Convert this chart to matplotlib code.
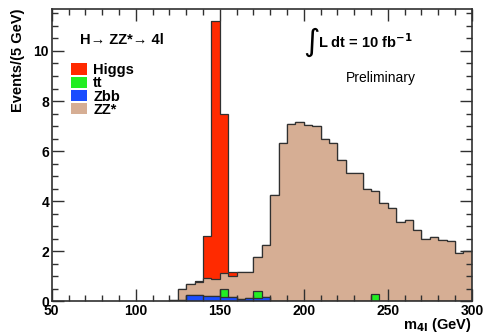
import numpy as np
import matplotlib
matplotlib.use("Agg")
import matplotlib.pyplot as plt
from matplotlib.patches import Patch
from matplotlib.ticker import MultipleLocator

plt.rcParams['font.family'] = ['Liberation Sans', 'DejaVu Sans']

# 5 GeV bins from 120 to 300 GeV (all empty below 120)
bin_lo = 120
bin_w = 5
zbb = [0.0, 0.03, 0.24, 0.24, 0.19, 0.19, 0.16, 0.16, 0.08, 0.11, 0.13, 0.17,
       0.02, 0.02, 0.02, 0.0, 0.0, 0.02, 0.0, 0.02, 0.02, 0.0, 0.02, 0.0,
       0.0, 0.0, 0.0, 0.0, 0.0, 0.0, 0.0, 0.0, 0.0, 0.0, 0.0, 0.0]
ttbar = [0.0, 0.0, 0.0, 0.0, 0.0, 0.0, 0.31, 0.0, 0.0, 0.0, 0.26, 0.0,
         0.0, 0.0, 0.0, 0.0, 0.0, 0.0, 0.0, 0.0, 0.0, 0.0, 0.0, 0.0,
         0.30, 0.0, 0.0, 0.0, 0.0, 0.0, 0.0, 0.0, 0.0, 0.0, 0.0, 0.0]
zz = [0.05, 0.45, 0.43, 0.51, 0.74, 0.69, 0.64, 0.85, 1.07, 1.04, 1.38, 2.06,
      4.21, 6.31, 7.06, 7.15, 7.05, 6.99, 6.48, 6.31, 5.62, 5.13, 5.11, 4.48,
      4.11, 3.91, 3.71, 3.16, 3.25, 2.84, 2.49, 2.57, 2.44, 2.39, 1.92, 1.99]
higgs = [0.0, 0.0, 0.0, 0.05, 1.67, 10.32, 6.37, 0.14, 0.0, 0.0, 0.0, 0.0,
         0.0, 0.0, 0.0, 0.0, 0.0, 0.0, 0.0, 0.0, 0.0, 0.0, 0.0, 0.0,
         0.0, 0.0, 0.0, 0.0, 0.0, 0.0, 0.0, 0.0, 0.0, 0.0, 0.0, 0.0]

names = ["Higgs", "tt", "Zbb", "ZZ*"]
colors = {"Higgs": "#ff2a00", "tt": "#22ee22", "Zbb": "#1a4dff", "ZZ*": "#d6ae94"}

edges = bin_lo + bin_w * np.arange(len(zz) + 1)

# stack like ROOT's THStack: cumulative sums drawn from the top down
c_zbb = np.array(zbb)
c_tt = c_zbb + np.array(ttbar)
c_zz = c_tt + np.array(zz)
c_h = c_zz + np.array(higgs)

fig = plt.figure(figsize=(4.84, 3.33), dpi=100)
ax = fig.add_axes([0.107, 0.096, 0.868, 0.877])

for vals, name in [(c_h, "Higgs"), (c_zz, "ZZ*"), (c_tt, "tt"), (c_zbb, "Zbb")]:
    ax.stairs(vals, edges, fill=True, color=colors[name], baseline=0)
    ax.stairs(vals, edges, color="#303030", lw=0.9, baseline=0)

ax.set_xlim(50, 300)
ax.set_ylim(0, 11.68)
ax.xaxis.set_major_locator(MultipleLocator(50))
ax.xaxis.set_minor_locator(MultipleLocator(10))
ax.yaxis.set_major_locator(MultipleLocator(2))
ax.yaxis.set_minor_locator(MultipleLocator(0.5))
ax.tick_params(which="both", direction="in", top=True, right=True,
               color="#303030", labelsize=10, pad=2)
ax.tick_params(which="major", length=8.5, width=1)
ax.tick_params(which="minor", length=4, width=1)
for lab in ax.get_xticklabels() + ax.get_yticklabels():
    lab.set_fontweight("bold")
for s in ax.spines.values():
    s.set_color("#303030")
    s.set_linewidth(1.2)

ax.set_ylabel("Events/(5 GeV)", loc="top", fontsize=10.5, fontweight="bold", labelpad=6)
ax.set_xlabel(r"m$_{\mathbf{4l}}$ (GeV)", loc="right", fontsize=10.5,
              fontweight="bold", labelpad=-1)

ax.text(0.067, 0.895, "H\u2192 ZZ*\u2192 4l", transform=ax.transAxes,
        fontsize=10.5, fontweight="bold", va="center")
ax.text(0.598, 0.885, r"$\int$", transform=ax.transAxes, fontsize=16, va="center")
ax.text(0.633, 0.887, r"L dt = 10 fb$^{\mathbf{-1}}$", transform=ax.transAxes,
        fontsize=10.5, fontweight="bold", va="center")
ax.text(0.70, 0.764, "Preliminary", transform=ax.transAxes, fontsize=10, va="center")

handles = [Patch(facecolor=colors[n], edgecolor="none") for n in names]
leg = ax.legend(handles, names, loc="upper left", bbox_to_anchor=(0.045, 0.815),
                frameon=False, prop={"weight": "bold", "size": 10.5},
                labelspacing=-0.05, handlelength=1.15, handleheight=0.8,
                handletextpad=0.4, borderaxespad=0, borderpad=0)

fig.savefig("out.png", dpi=100)
